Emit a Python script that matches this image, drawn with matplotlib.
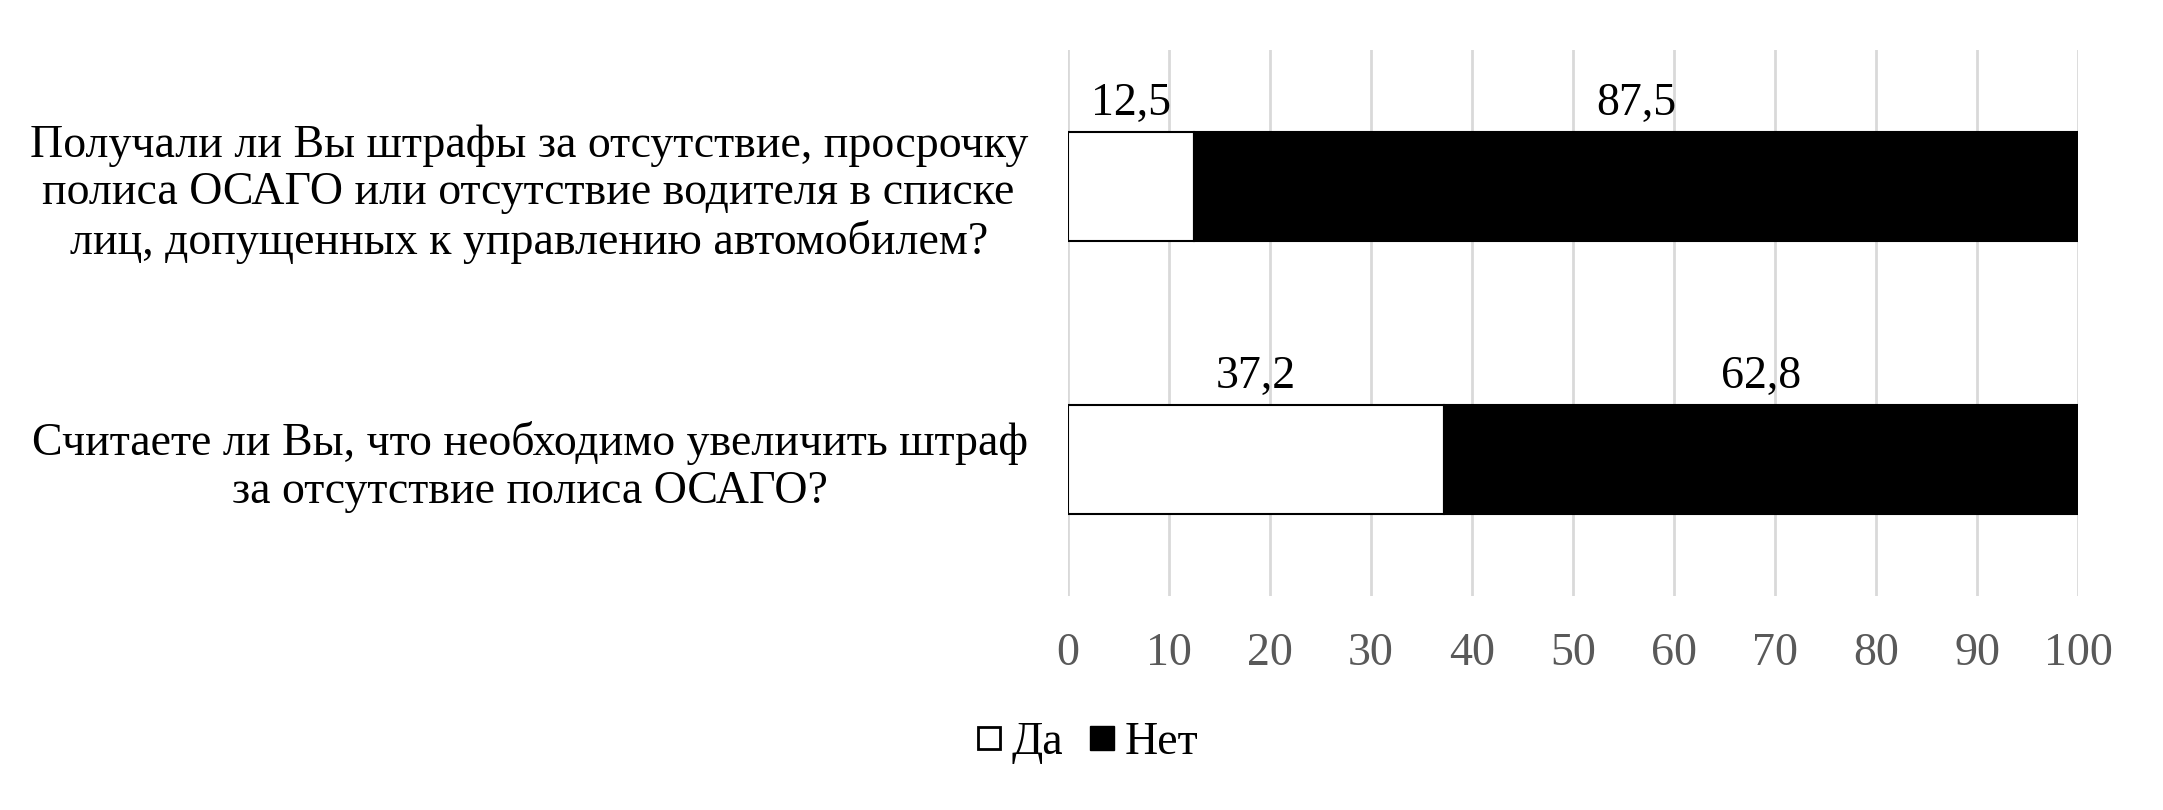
import matplotlib.pyplot as plt
from matplotlib.lines import Line2D

plt.rcParams['font.family'] = ['Liberation Serif', 'DejaVu Serif']

questions = [
    "Получали ли Вы штрафы за отсутствие, просрочку\nполиса ОСАГО или отсутствие водителя в списке\nлиц, допущенных к управлению автомобилем?",
    "Считаете ли Вы, что необходимо увеличить штраф\nза отсутствие полиса ОСАГО?",
]
yes_vals = [12.5, 37.2]
no_vals = [87.5, 62.8]
series_names = ["Да", "Нет"]

fig = plt.figure(figsize=(21.63, 8.10), dpi=100)
ax = fig.add_axes([0.4938, 0.2642, 0.4669, 0.6741])

ypos = list(range(len(questions)))
bar_h = 0.40
ax.barh(ypos, yes_vals, height=bar_h, color='white', edgecolor='black', linewidth=1.5, zorder=3)
ax.barh(ypos, no_vals, left=yes_vals, height=bar_h, color='black', edgecolor='black', linewidth=1.5, zorder=3)

def fmt(v):
    return f"{v:.1f}".replace('.', ',')

for y, a, b in zip(ypos, yes_vals, no_vals):
    ax.annotate(fmt(a), (a / 2, y - bar_h / 2), xytext=(0, 20), textcoords='offset points',
                ha='center', va='center', fontsize=33)
    ax.annotate(fmt(b), (a + b / 2, y - bar_h / 2), xytext=(0, 20), textcoords='offset points',
                ha='center', va='center', fontsize=33)

ax.set_xlim(0, 100)
ax.set_ylim(1.5, -0.5)
ax.set_xticks(range(0, 101, 10))
ax.set_yticks(ypos)
ax.set_yticklabels(questions, fontsize=33, multialignment='center', linespacing=1.15)
ax.tick_params(axis='x', length=0, pad=26, labelsize=33, labelcolor='#595959')
ax.tick_params(axis='y', length=0, pad=29)
ax.grid(axis='x', color='#d9d9d9', linewidth=2, zorder=0)
for s in ax.spines.values():
    s.set_visible(False)

handles = [
    Line2D([], [], marker='s', linestyle='none', markersize=16, markerfacecolor='white',
           markeredgecolor='black', markeredgewidth=2),
    Line2D([], [], marker='s', linestyle='none', markersize=17, markerfacecolor='black',
           markeredgecolor='black'),
]
fig.legend(handles, series_names, loc='center', bbox_to_anchor=(0.503, 0.083), ncol=2,
           frameon=False, fontsize=33, handlelength=0.5, handletextpad=0.25, columnspacing=0.6)

fig.savefig('out.png', dpi=100)
